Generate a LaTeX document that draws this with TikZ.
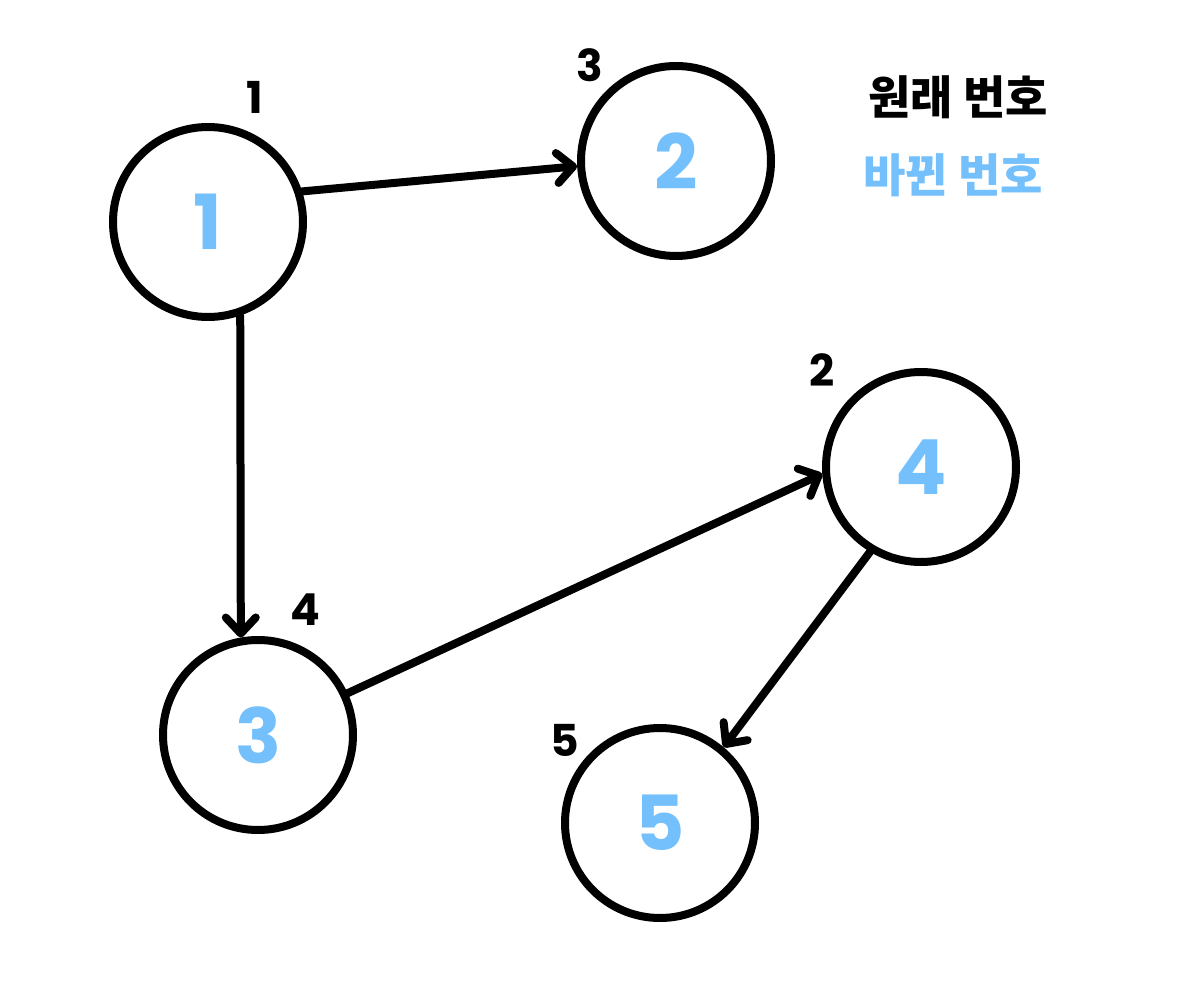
\documentclass[tikz,border=0pt]{standalone}
\usepackage{fontspec}
\setmainfont{Poppins}
\newfontfamily\krfont{Noto Sans CJK KR}
\usetikzlibrary{arrows.meta}
\definecolor{newblue}{HTML}{74C0FC}
\begin{document}
\begin{tikzpicture}[x=0.5pt,y=-0.5pt,
  vtx/.style={circle,draw=black,line width=4pt,minimum size=95pt,inner sep=0pt,
    text=newblue,font=\fontsize{38}{44}\selectfont\bfseries},
  orig/.style={text=black,font=\fontsize{22}{26}\selectfont\bfseries},
  edge/.style={line width=4pt,line cap=round,-{Straight Barb[length=8pt,width=15pt,line cap=round,round]}},
  leg/.style={font=\krfont\fontsize{23}{28}\selectfont\bfseries}]
\useasboundingbox (0,0) rectangle (1185,1000);
\fill[white] (0,0) rectangle (1185,1000);
\node[vtx] (n1) at (208,222) {1};
\node[vtx] (n2) at (676,161) {2};
\node[vtx] (n4) at (921,467) {4};
\node[vtx] (n3) at (258,735) {3};
\node[vtx] (n5) at (660,823) {5};
\node[orig] (o1) at (255,97) {1};
\node[orig] (o2) at (590,65) {3};
\node[orig] (o4) at (822,370) {2};
\node[orig] (o3) at (305,610) {4};
\node[orig] (o5) at (565,740) {5};
\node[leg,text=black] (l1) at (958,97) {원래 번호};
\node[leg,text=newblue] (l2) at (953,175) {바뀐 번호};
\draw[edge] (n1.18) -- (n2.183);
\draw[edge] (n1.-71) -- (n3.100);
\draw[edge] (n3.25) -- (n4.184);
\draw[edge] (n4.239) -- (n5.50);
\end{tikzpicture}
\end{document}
